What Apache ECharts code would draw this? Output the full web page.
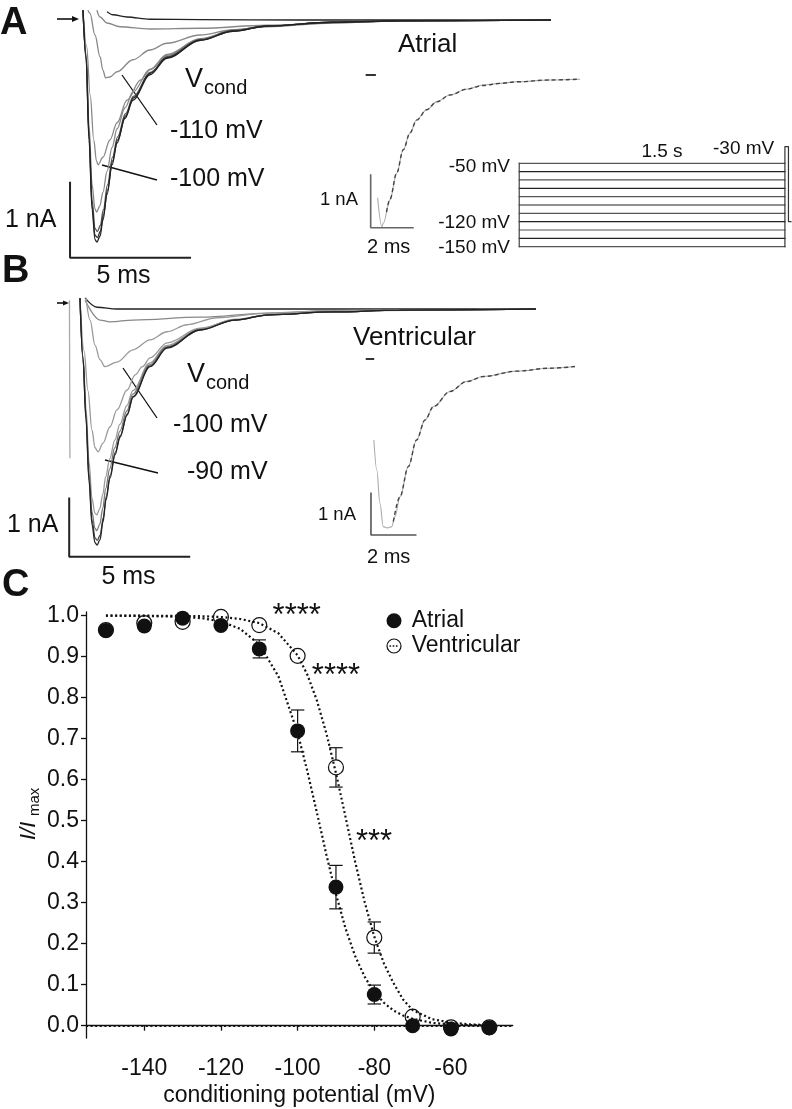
<!DOCTYPE html>
<html><head><meta charset="utf-8">
<script src="https://cdn.jsdelivr.net/npm/echarts@6/dist/echarts.min.js"></script>
<style>html,body{margin:0;padding:0;background:#fff}#c{width:792px;height:1109px}</style>
</head><body><div id="c"></div>
<script>
// ---------------- Panel C data ----------------
const potentials = [-150,-140,-130,-120,-110,-100,-90,-80,-70,-60,-50];
const atrialMean = [0.964,0.975,0.994,0.976,0.919,0.719,0.338,0.076,0.0,-0.008,-0.005];
const atrialSem  = [0,0,0,0,0.022,0.051,0.053,0.023,0,0,0];
const ventMean   = [0.965,0.982,0.985,0.997,0.977,0.902,0.630,0.215,0.022,-0.004,-0.004];
const ventSem    = [0,0,0,0,0,0,0.048,0.038,0,0,0];
const fitX       = [-150,-140,-130,-125,-120,-115,-110,-105,-100,-97.5,-95,-92.5,-90,-87.5,-85,-82.5,-80,-77.5,-75,-72.5,-70,-65,-60,-55,-50];
const atrialFit  = [1.0,0.9995,0.997,0.994,0.986,0.968,0.930,0.852,0.714,0.622,0.521,0.417,0.321,0.237,0.170,0.119,0.082,0.056,0.037,0.025,0.017,0.007,0.003,0.0014,0.0006];
const ventFit    = [1.0,1.0,0.9994,0.9987,0.9968,0.992,0.982,0.957,0.903,0.857,0.794,0.713,0.616,0.509,0.400,0.301,0.217,0.152,0.104,0.064,0.038,0.016,0.0075,0.0033,0.0015];
const xTicks = [-140,-120,-100,-80,-60];
const yTicks = [0,0.1,0.2,0.3,0.4,0.5,0.6,0.7,0.8,0.9,1.0];

// ---------------- Panel A traces: [time ms, current nA] ----------------
const traceA1 = [[0,0.13],[0.13,-0.53],[0.25,-1.6],[0.38,-2.53],[0.5,-2.93],[0.58,-2.96],[0.71,-2.88],[0.83,-2.67],[1.0,-2.33],[1.21,-1.93],[1.42,-1.64],[1.75,-1.31],[2.08,-1.07],[2.79,-0.73],[3.5,-0.51],[4.88,-0.27],[6.25,-0.15],[7.67,-0.08],[10.4,-0.03],[13.2,-0.01],[19.5,0]];
const traceA2 = [[0,0.13],[0.13,-0.5],[0.25,-1.55],[0.38,-2.48],[0.5,-2.87],[0.6,-2.9],[0.72,-2.82],[0.85,-2.6],[1.02,-2.27],[1.23,-1.88],[1.44,-1.6],[1.77,-1.28],[2.1,-1.04],[2.8,-0.71],[3.5,-0.5],[4.9,-0.27],[6.25,-0.15],[7.7,-0.08],[10.4,-0.03],[13.2,-0.01],[19.5,0]];
const traceA3 = [[0,0.13],[0.13,-0.48],[0.25,-1.5],[0.38,-2.4],[0.5,-2.78],[0.6,-2.82],[0.72,-2.74],[0.85,-2.53],[1.02,-2.2],[1.23,-1.83],[1.44,-1.56],[1.77,-1.25],[2.1,-1.02],[2.8,-0.7],[3.5,-0.49],[4.9,-0.26],[6.25,-0.14],[7.7,-0.08],[10.4,-0.03],[13.2,-0.01],[19.5,0]];
const traceA4 = [[0,0.13],[0.13,-0.45],[0.25,-1.4],[0.38,-2.2],[0.5,-2.52],[0.57,-2.56],[0.7,-2.48],[0.83,-2.3],[1.0,-2.02],[1.21,-1.7],[1.42,-1.45],[1.75,-1.17],[2.08,-0.96],[2.79,-0.66],[3.5,-0.46],[4.88,-0.25],[6.25,-0.14],[7.67,-0.08],[10.4,-0.03],[13.2,-0.01],[19.5,0]];
const traceA5 = [[0,0.13],[0.15,-0.35],[0.3,-1.0],[0.45,-1.6],[0.56,-1.88],[0.63,-1.93],[0.83,-1.83],[1.12,-1.6],[1.42,-1.37],[1.83,-1.07],[2.4,-0.8],[2.8,-0.66],[3.5,-0.47],[4.88,-0.26],[6.25,-0.14],[7.67,-0.08],[10.4,-0.03],[13.2,-0.01],[19.5,0]];
const traceA6 = [[0.2,0.13],[0.29,0.09],[0.5,-0.2],[0.71,-0.49],[0.83,-0.67],[0.94,-0.77],[1.12,-0.76],[1.42,-0.69],[2.08,-0.53],[2.79,-0.4],[3.5,-0.31],[4.88,-0.2],[6.25,-0.13],[7.67,-0.09],[10.4,-0.04],[13.2,-0.01],[19.5,0]];
const traceA7 = [[0.58,0.13],[0.71,0.04],[1.0,-0.04],[1.54,-0.09],[2.79,-0.12],[4.88,-0.11],[7.67,-0.07],[10.4,-0.04],[13.2,-0.01],[19.5,0]];
const traceA8 = [[1.0,0.11],[1.25,0.07],[1.83,0.04],[2.79,0.01],[4.88,0.005],[9,0],[19.5,0]];
const insetA  = [[0.33,-2.33],[0.53,-2.88],[0.6,-2.81],[0.91,-2.37],[1.23,-1.87],[1.54,-1.42],[1.86,-1.1],[2.17,-0.85],[2.65,-0.66],[3.12,-0.51],[3.75,-0.38],[4.54,-0.27],[5.32,-0.19],[6.11,-0.16],[6.9,-0.13],[8.48,-0.095],[9.9,-0.08]];
const insetFitA = [[0.75,-2.6],[0.91,-2.36],[1.23,-1.86],[1.54,-1.42],[1.86,-1.1],[2.17,-0.86],[2.65,-0.66],[3.12,-0.51],[3.75,-0.38],[4.54,-0.27],[5.32,-0.2],[6.11,-0.16],[6.9,-0.13],[8.48,-0.095],[9.9,-0.08]];

// ---------------- Panel B traces ----------------
const traceB0 = [[-0.44,0.15],[-0.42,-2.56]];
const traceB1 = [[0,0.19],[0.125,-0.87],[0.25,-1.9],[0.375,-2.95],[0.5,-3.7],[0.625,-4.01],[0.71,-4.05],[0.83,-3.96],[0.96,-3.65],[1.08,-3.28],[1.25,-2.9],[1.46,-2.5],[1.67,-2.2],[1.96,-1.82],[2.21,-1.51],[2.92,-0.99],[3.63,-0.67],[5.0,-0.36],[6.46,-0.19],[7.875,-0.1],[10.5,-0.05],[13.3,-0.02],[19.0,0]];
const traceB2 = [[0,0.19],[0.125,-0.85],[0.25,-1.86],[0.375,-2.9],[0.5,-3.62],[0.63,-3.93],[0.72,-3.97],[0.84,-3.88],[0.97,-3.58],[1.09,-3.22],[1.26,-2.85],[1.47,-2.46],[1.68,-2.17],[1.97,-1.8],[2.22,-1.5],[2.92,-0.98],[3.63,-0.66],[5.0,-0.36],[6.46,-0.19],[7.875,-0.1],[10.5,-0.05],[13.3,-0.02],[19.0,0]];
const traceB3 = [[0,0.19],[0.125,-0.82],[0.25,-1.8],[0.375,-2.8],[0.5,-3.48],[0.62,-3.76],[0.7,-3.8],[0.82,-3.7],[0.95,-3.42],[1.07,-3.08],[1.24,-2.74],[1.45,-2.38],[1.66,-2.1],[1.95,-1.75],[2.2,-1.46],[2.9,-0.96],[3.6,-0.65],[5.0,-0.35],[6.46,-0.19],[7.875,-0.1],[10.5,-0.05],[13.3,-0.02],[19.0,0]];
const traceB4 = [[0,0.19],[0.125,-0.8],[0.25,-1.7],[0.375,-2.62],[0.5,-3.25],[0.62,-3.5],[0.7,-3.53],[0.82,-3.43],[0.95,-3.18],[1.07,-2.88],[1.24,-2.57],[1.45,-2.25],[1.66,-1.98],[1.95,-1.66],[2.2,-1.4],[2.9,-0.93],[3.6,-0.63],[5.0,-0.34],[6.46,-0.18],[7.875,-0.1],[10.5,-0.05],[13.3,-0.02],[19.0,0]];
const traceB5 = [[0,0.19],[0.17,-0.72],[0.33,-1.4],[0.5,-2.08],[0.625,-2.38],[0.75,-2.45],[0.96,-2.3],[1.25,-2.02],[1.54,-1.73],[1.96,-1.39],[2.3,-1.13],[2.6,-0.99],[2.92,-0.84],[3.63,-0.58],[5.0,-0.33],[6.46,-0.18],[7.875,-0.1],[10.5,-0.05],[13.3,-0.02],[19.0,0]];
const traceB6 = [[0.25,0.19],[0.42,-0.19],[0.625,-0.62],[0.83,-0.87],[1.04,-0.99],[1.54,-0.91],[2.21,-0.7],[2.92,-0.53],[3.63,-0.39],[4.46,-0.27],[5.71,-0.15],[7.83,-0.07],[10.5,-0.03],[13.3,-0.02],[19.0,0]];
const traceB7 = [[0.21,0.15],[0.83,-0.19],[1.25,-0.22],[2.21,-0.19],[5.0,-0.14],[7.875,-0.07],[10.5,-0.03],[19.0,0]];
const traceB8 = [[0.21,0.19],[0.71,0.03],[1.54,0],[19.0,0]];
const insetB  = [[0.13,-1.94],[0.26,-2.66],[0.4,-3.46],[0.55,-4.02],[0.74,-4.05],[0.93,-4.02],[1.07,-3.78],[1.3,-3.3],[1.67,-2.58],[2.04,-1.94],[2.42,-1.46],[2.8,-1.14],[3.53,-0.78],[4.28,-0.54],[5.03,-0.42],[6.52,-0.29],[8.0,-0.22],[9.13,-0.18]];
const insetFitB = [[1.0,-3.9],[1.3,-3.3],[1.67,-2.58],[2.04,-1.94],[2.42,-1.46],[2.8,-1.14],[3.53,-0.78],[4.28,-0.54],[5.03,-0.42],[6.52,-0.29],[8.0,-0.22],[9.13,-0.18]];

// ---------------- Voltage protocol ----------------
const condV = [-150,-140,-130,-120,-110,-100,-90,-80,-70,-60,-50];
const condDur = 1.5;   // s
const testV = -30, testDur = 0.02, holdV = -120, holdDur = 0.014;

// ---------------- layout (not data) ----------------
const FONT = "'Liberation Sans', Arial, Helvetica, sans-serif";
const scaleA = {t:-0.54, i:-3.17, dI:1, dT:5};
const scaleB = {t:-0.45, i:-4.25, dI:1, dT:5};
const scaleIA = {t:0, i:-2.9, dI:1, dT:2};
const scaleIB = {t:0, i:-4.22, dI:1, dT:2};

const chart = echarts.init(document.getElementById('c'));

function hx(gi,min,max){return {type:'value',gridIndex:gi,min,max,show:false};}
function tr(data,gi,color,w,extra){
  return Object.assign({type:'line',xAxisIndex:gi,yAxisIndex:gi,data,symbol:'none',smooth:0.35,smoothMonotone:'x',
    lineStyle:{color,width:w||1.1},silent:true,z:2,animation:false},extra||{});
}
function poly(data,gi,color,w,z){
  return {type:'line',xAxisIndex:gi,yAxisIndex:gi,data,symbol:'none',smooth:false,lineStyle:{color,width:w,cap:'square'},silent:true,z:z||3,animation:false};
}
function scaleBar(s,gi,color,w){
  return poly([[s.t,s.i+s.dI],[s.t,s.i],[s.t+s.dT,s.i]],gi,color,w);
}
function errSeries(mean,sem,r){
  const data = potentials.map((v,i)=>[v,mean[i],sem[i]]).filter(d=>d[2]>0);
  return {type:'custom',xAxisIndex:5,yAxisIndex:5,data,z:4,silent:true,
    renderItem(params,api){
      const x=api.value(0),y=api.value(1),e=api.value(2);
      const c=api.coord([x,y]),t=api.coord([x,y+e]),b=api.coord([x,y-e]);
      const st={stroke:'#111',lineWidth:1.2}; const hw=6.7; const ch=[];
      if(c[1]-t[1]>r) ch.push({type:'line',shape:{x1:c[0],y1:t[1],x2:c[0],y2:c[1]-r},style:st});
      ch.push({type:'line',shape:{x1:c[0]-hw,y1:t[1],x2:c[0]+hw,y2:t[1]},style:st});
      if(b[1]-c[1]>r) ch.push({type:'line',shape:{x1:c[0],y1:c[1]+r,x2:c[0],y2:b[1]},style:st});
      ch.push({type:'line',shape:{x1:c[0]-hw,y1:b[1],x2:c[0]+hw,y2:b[1]},style:st});
      return {type:'group',children:ch};
    }};
}

const series = [];
// Panel A
[[traceA8,'#222'],[traceA7,'#888'],[traceA6,'#888'],[traceA5,'#8a8a8a'],[traceA4,'#888'],[traceA3,'#555'],[traceA2,'#333'],[traceA1,'#222']]
  .forEach(([d,c])=>series.push(tr(d,0,c,1.3)));
series.push(scaleBar(scaleA,0,'#222',2));
series.push(tr(insetA,1,'#aaa',1.1));
series.push(tr(insetFitA,1,'#444',1.4,{lineStyle:{color:'#444',width:1.4,type:[4,3]},z:3}));
series.push(scaleBar(scaleIA,1,'#666',1.6));
series.push(poly([[-0.19,0],[0.2,0]],1,'#333',2));
// protocol
condV.forEach((v,i)=>series.push(poly([[0,v],[condDur,v]],2,i%2?'#222':'#555',1.2)));
series.push(poly([[0,condV[0]],[0,condV[condV.length-1]]],2,'#444',1.2));
series.push(poly([[condDur,condV[0]],[condDur,testV],[condDur+testDur,testV],[condDur+testDur,holdV],[condDur+testDur+holdDur,holdV]],2,'#333',1.2));
// Panel B
[[traceB0,'#aaa'],[traceB8,'#222'],[traceB7,'#888'],[traceB6,'#999'],[traceB5,'#999'],[traceB4,'#999'],[traceB3,'#777'],[traceB2,'#444'],[traceB1,'#222']]
  .forEach(([d,c])=>series.push(tr(d,3,c,1.3)));
series.push(scaleBar(scaleB,3,'#222',2));
series.push(tr(insetB,4,'#aaa',1.1));
series.push(tr(insetFitB,4,'#444',1.4,{lineStyle:{color:'#444',width:1.4,type:[4,3]},z:3}));
series.push(scaleBar(scaleIB,4,'#555',1.6));
series.push(poly([[-0.19,0],[0.1,0]],4,'#333',2));
// Panel C
const dotted = {color:'#111',width:2.2,type:[2,2.6],cap:'butt'};
series.push({type:'line',xAxisIndex:5,yAxisIndex:5,data:fitX.map((x,i)=>[x,ventFit[i]]),symbol:'none',lineStyle:dotted,z:3,silent:true,
  markLine:{silent:true,symbol:'none',label:{show:false},lineStyle:{color:'#111',width:2.2,type:[2,2.6]},data:[{yAxis:0}]}});
series.push({type:'line',xAxisIndex:5,yAxisIndex:5,data:fitX.map((x,i)=>[x,atrialFit[i]]),symbol:'none',lineStyle:dotted,z:3,silent:true});
series.push(errSeries(ventMean,ventSem,7.5));
series.push(errSeries(atrialMean,atrialSem,7.5));
series.push({type:'scatter',name:'Ventricular',xAxisIndex:5,yAxisIndex:5,data:potentials.map((v,i)=>[v,ventMean[i]]),symbol:'circle',symbolSize:15,
  itemStyle:{color:'rgba(0,0,0,0)',borderColor:'#111',borderWidth:1.2,opacity:1},z:5,silent:true});
series.push({type:'scatter',name:'Atrial',xAxisIndex:5,yAxisIndex:5,data:potentials.map((v,i)=>[v,atrialMean[i]]),symbol:'circle',symbolSize:15,
  itemStyle:{color:'#111',opacity:1},z:6,silent:true});

function T(text,x,y,size,align,extra){
  return Object.assign({type:'text',x,y,silent:true,style:{text,font:size+' '+FONT,fill:'#111',align:align||'left',verticalAlign:'middle'}},extra||{});
}
function L(x1,y1,x2,y2,w,c){return {type:'line',silent:true,shape:{x1,y1,x2,y2},style:{stroke:c||'#111',lineWidth:w||1.3}};}

const graphic = [
  T('A',0,24,'bold 38px'), T('B',2,272,'bold 38px'), T('C',2,586,'bold 38px'),
  // panel A
  T('Atrial',398,45,'26px'),
  T('V',185,80,'27px'), T('cond',204,88.5,'20px'),
  T('-110 mV',170,131,'25px'), T('-100 mV',170,179,'25px'),
  L(122,75,157,125), L(102,165,157,180),
  T('1 nA',5,220,'25px'), T('5 ms',123.5,276,'25px','center'),
  T('1 nA',358,200,'18.5px','right'), T('2 ms',367,247,'20px'),
  T('-50 mV',510,167,'19px','right'), T('-120 mV',510,222.5,'19px','right'), T('-150 mV',510,248,'19px','right'),
  T('1.5 s',662,152,'19px','center'), T('-30 mV',713,149,'19px'),
  L(57,19,73,19,1.6), {type:'polygon',silent:true,shape:{points:[[72,16],[79,19],[72,22]]},style:{fill:'#111'}},
  // panel B
  T('Ventricular',353,338,'26px'),
  T('V',187,375,'27px'), T('cond',206,383,'20px'),
  T('-100 mV',173,425,'25px'), T('-90 mV',187,472,'25px'),
  L(123,368,157,418), L(105,460,158,473),
  T('1 nA',7,525,'25px'), T('5 ms',128.5,577,'25px','center'),
  T('1 nA',356,515,'18.5px','right'), T('2 ms',367,557,'20px'),
  L(57,303,64,303,1.6), {type:'polygon',silent:true,shape:{points:[[63,300.5],[69,303],[63,305.5]]},style:{fill:'#111'}},
  // panel C
  {type:'group',x:29,y:840,rotation:Math.PI/2,silent:true,children:[
    {type:'text',x:0,y:0,style:{text:'I/I',font:'italic 22px '+FONT,fill:'#111',align:'left',verticalAlign:'middle'}},
    {type:'text',x:24,y:6,style:{text:'max',font:'15px '+FONT,fill:'#111',align:'left',verticalAlign:'middle'}}
  ]},
  T('****',296.7,616,'31px','center'), T('****',336,676,'31px','center'), T('***',374,842,'31px','center'),
  {type:'circle',silent:true,shape:{cx:394,cy:620.7,r:7.5},style:{fill:'#111'}},
  {type:'circle',silent:true,shape:{cx:394,cy:646,r:7},style:{fill:'none',stroke:'#111',lineWidth:1.2}},
  {type:'line',silent:true,shape:{x1:389.5,y1:646,x2:399,y2:646},style:{stroke:'#111',lineWidth:1.6,lineDash:[1.6,1.6]}},
  T('Atrial',411.7,621,'23px'), T('Ventricular',411.7,646,'23px')
];

const axisLine = {lineStyle:{color:'#111',width:1.3}};
chart.setOption({
  animation:false,
  textStyle:{fontFamily:FONT},
  grid:[
    {left:65,top:5,width:492,height:255},
    {left:360.1,top:69.7,width:230.5,height:165.5},
    {left:515.7,top:142.45,width:277.4,height:108.4},
    {left:65,top:291.5,width:483,height:274},
    {left:359.8,top:350.7,width:223.5,height:191.8},
    {left:86,top:612,width:426.7,height:426}
  ],
  xAxis:[hx(0,-0.75,19.75),hx(1,-0.5,10.4),hx(2,-0.02,1.54),hx(3,-0.625,19.5),hx(4,-0.5,9.5),
    {type:'value',gridIndex:5,min:-155.2,max:-43.9,splitLine:{show:false},axisLine,
     axisTick:{show:true,length:5,lineStyle:{color:'#111',width:1.3},customValues:xTicks},
     axisLabel:{customValues:xTicks,fontSize:23,color:'#111',fontFamily:FONT,margin:19},
     name:'conditioning potential (mV)',nameLocation:'middle',nameGap:46,nameTextStyle:{fontSize:23,color:'#111',fontFamily:FONT}}],
  yAxis:[hx(0,-3.2,0.2),hx(1,-3.04,0.1),hx(2,-155,-25),hx(3,-4.4,0.3),hx(4,-4.4,0.2),
    {type:'value',gridIndex:5,min:-0.03,max:1.009,splitLine:{show:false},axisLine,
     axisTick:{show:true,length:5,lineStyle:{color:'#111',width:1.3},customValues:yTicks},
     axisLabel:{customValues:yTicks,fontSize:23,color:'#111',fontFamily:FONT,margin:7,formatter:v=>v.toFixed(1)}}],
  series,
  graphic
});
</script></body></html>
